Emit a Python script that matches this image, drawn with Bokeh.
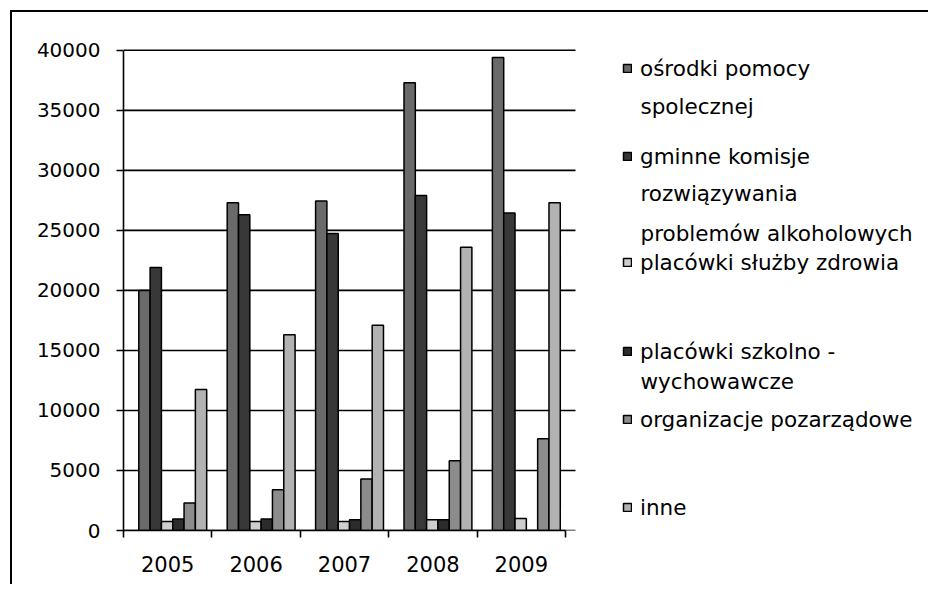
from bokeh.plotting import figure
from bokeh.models import (ColumnDataSource, FixedTicker, Legend, LegendItem, Label, Range1d)
from bokeh.embed import file_html
from bokeh.resources import INLINE

# ---------------- data ----------------
years = ["2005", "2006", "2007", "2008", "2009"]
osrodki = [20000, 27300, 27450, 37300, 39400]
gminne = [21900, 26300, 24750, 27900, 26450]
zdrowia = [750, 750, 750, 900, 1000]
szkolno = [950, 950, 900, 900, 0]
organizacje = [2300, 3400, 4300, 5800, 7650]
inne = [11750, 16300, 17100, 23600, 27300]

series_names = [
    ["ośrodki pomocy", "spolecznej"],
    ["gminne komisje", "rozwiązywania", "problemów alkoholowych"],
    ["placówki służby zdrowia"],
    ["placówki szkolno -", "wychowawcze"],
    ["organizacje pozarządowe"],
    ["inne"],
]
series_values = [osrodki, gminne, zdrowia, szkolno, organizacje, inne]
y_ticks = [0, 5000, 10000, 15000, 20000, 25000, 30000, 35000, 40000]

# ---------------- style / layout ----------------
colors = ["#6a6a6a", "#383838", "#cdcdcd", "#2c2c2c", "#8c8c8c", "#b2b2b2"]
FONT = "DejaVu Sans"
OFF = 12                      # page offset of the canvas (margin 10 + border 2)
W, H = 918, 574
FR_L, FR_B = 123, 530         # page coords of axis origin
PX_CAT = 88.4                 # pixels per category
PX_PER_1000 = 12.0
Y_END = 40400
FR_T = FR_B - Y_END / 1000 * PX_PER_1000
X_END = (W + OFF - FR_L) / PX_CAT
GRID_END = (575 - FR_L) / PX_CAT
BAR_W = 0.128
SHIFT = 0.057

def dx(px):
    return (px - FR_L) / PX_CAT

def dy(py):
    return (FR_B - py) / PX_PER_1000 * 1000

p = figure(width=W, height=H, output_backend="svg", toolbar_location=None,
           x_range=Range1d(0, X_END), y_range=Range1d(0, Y_END),
           min_border_left=FR_L - OFF, min_border_right=0,
           min_border_top=int(round(FR_T - OFF)), min_border_bottom=H - (FR_B - OFF))
p.outline_line_color = None
p.background_fill_color = "white"
p.border_fill_color = "white"
p.styles = {"margin-top": "10px", "margin-left": "10px",
            "border-top": "2px solid black", "border-left": "2px solid black"}

# grid lines (back wall) drawn from the tick list
p.segment(x0=0, x1=GRID_END, y0=y_ticks, y1=y_ticks, line_color="black", line_width=1.6)

renderers = []
for k, (vals, col) in enumerate(zip(series_values, colors)):
    xs = [i + 0.5 + SHIFT + (k - 2.5) * BAR_W for i in range(len(years))]
    src = ColumnDataSource(dict(x=xs, top=vals))
    r = p.vbar(x="x", top="top", bottom=0, width=BAR_W, source=src,
               fill_color=col, line_color="black", line_width=1.5)
    renderers.append(r)

# axes
p.yaxis.ticker = FixedTicker(ticks=y_ticks)
p.yaxis.bounds = (0, 40000)
p.yaxis.major_tick_out = 7
p.yaxis.major_tick_in = 0
p.yaxis.minor_tick_line_color = None
p.yaxis.major_label_standoff = 16
p.yaxis.axis_line_color = "black"
p.yaxis.axis_line_width = 1.6
p.yaxis.major_tick_line_width = 1.6
p.yaxis.major_label_text_font = FONT
p.yaxis.major_label_text_font_size = "20px"
p.yaxis.major_label_text_color = "black"

centers = [i + 0.5 for i in range(len(years))]
p.xaxis.ticker = FixedTicker(ticks=centers, minor_ticks=list(range(len(years) + 1)))
p.xaxis.bounds = (0, len(years))
p.xaxis.major_label_overrides = {c: y for c, y in zip(centers, years)}
p.xaxis.major_tick_line_color = None
p.xaxis.major_tick_out = 6
p.xaxis.major_tick_in = 0
p.xaxis.minor_tick_out = 7
p.xaxis.minor_tick_in = 0
p.xaxis.minor_tick_line_color = "black"
p.xaxis.minor_tick_line_width = 1.6
p.xaxis.major_label_standoff = 18
p.xaxis.axis_line_color = "black"
p.xaxis.axis_line_width = 1.6
p.xaxis.major_label_text_font = FONT
p.xaxis.major_label_text_font_size = "21px"
p.xaxis.major_label_text_color = "black"

p.xgrid.grid_line_color = None
p.ygrid.grid_line_color = None

# legend (manual placement, inside the widened frame)
line_y = [[68, 106], [156, 193, 233], [262], [351, 381], [419], [507]]
LEG_X = 622
STANDOFF = 8
ENTRY_H = 26
LEG_FS = "21.5px"
for r, names, ys in zip(renderers, series_names, line_y):
    leg = Legend(items=[LegendItem(label=names[0], renderers=[r])],
                 location=(LEG_X - FR_L, FR_B - ys[0] - ENTRY_H // 2),
                 glyph_width=10, glyph_height=10, label_height=ENTRY_H,
                 label_standoff=STANDOFF, padding=0, margin=0, spacing=0,
                 border_line_color=None, background_fill_alpha=0,
                 label_text_font=FONT, label_text_font_size=LEG_FS,
                 label_text_color="black")
    p.add_layout(leg, "center")
    for extra, yy in zip(names[1:], ys[1:]):
        p.add_layout(Label(x=dx(LEG_X + 10 + STANDOFF), y=dy(yy),
                           text=extra, text_baseline="middle",
                           text_font=FONT, text_font_size=LEG_FS,
                           text_color="black"))

open("out.html", "w").write(file_html(p, INLINE))
